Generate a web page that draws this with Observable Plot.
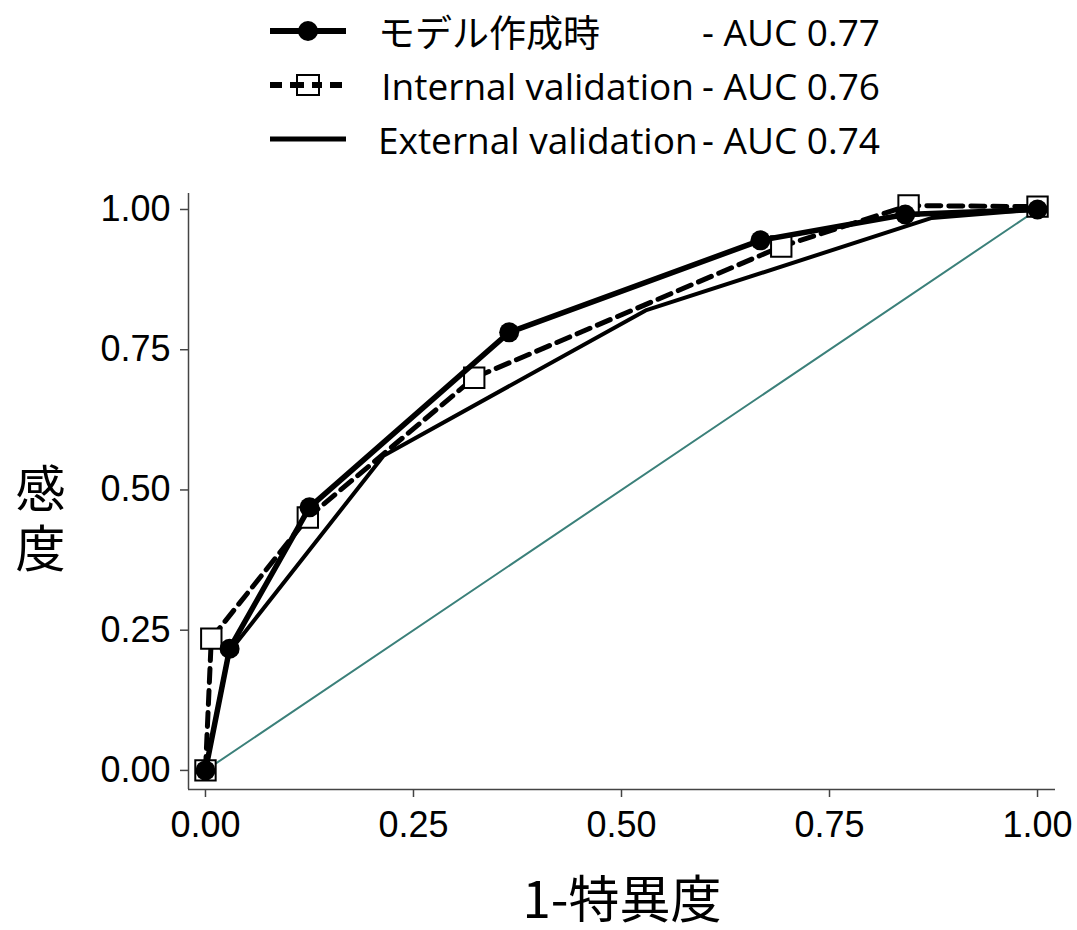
<!DOCTYPE html>
<html>
<head>
<meta charset="utf-8">
<script src="https://cdn.jsdelivr.net/npm/d3@7"></script>
<script src="https://cdn.jsdelivr.net/npm/@observablehq/plot@0.6"></script>
<style>
  body { margin: 0; background: #fff; width: 1077px; }
  #legend { position: relative; height: 170px; font-family: "Open Sans", "Noto Sans CJK JP", sans-serif; font-size: 37px; color: #000; }
  .row { position: absolute; left: 0; height: 54px; display: flex; align-items: center; }
  .row svg { position: absolute; left: 268px; top: 0; }
  .name { position: absolute; left: 378px; width: 316px; white-space: nowrap; }
  .name.r { text-align: right; }
  .auc { position: absolute; left: 702px; white-space: nowrap; }
</style>
</head>
<body>
<div id="legend"></div>
<div id="chart"></div>
<script>
// ---- data ----
const seriesNames = ["モデル作成時", "Internal validation", "External validation"];
const aucLabels = ["- AUC 0.77", "- AUC 0.76", "- AUC 0.74"];

const modelFPR = [0, 0.029, 0.125, 0.365, 0.667, 0.841, 1];
const modelTPR = [0, 0.217, 0.469, 0.781, 0.945, 0.991, 1];

const internalFPR = [0, 0.007, 0.123, 0.323, 0.692, 0.845, 1];
const internalTPR = [0, 0.235, 0.451, 0.700, 0.934, 1.007, 1.005];

const externalFPR = [0, 0.028, 0.214, 0.529, 0.873, 1];
const externalTPR = [0, 0.210, 0.561, 0.820, 0.985, 1];

const refFPR = [0, 1];
const refTPR = [0, 1];

const xTicks = [0, 0.25, 0.5, 0.75, 1];
const yTicks = [0, 0.25, 0.5, 0.75, 1];
const xLabel = "1-特異度";
const yLabel = "感\n度";

const xDomain = [-0.0204, 1.0216];
const yDomain = [-0.034, 1.0285];

// ---- build tables ----
const zip = (xs, ys) => xs.map((x, i) => ({x, y: ys[i]}));
const model = zip(modelFPR, modelTPR);
const internal = zip(internalFPR, internalTPR);
const external = zip(externalFPR, externalTPR);
const ref = zip(refFPR, refTPR);

// ---- legend ----
const legend = document.getElementById("legend");
const samples = [
  `<svg width="80" height="54"><line x1="2" y1="27" x2="78" y2="27" stroke="black" stroke-width="6"/><circle cx="40" cy="27" r="10" fill="black"/></svg>`,
  `<svg width="80" height="54"><line x1="2" y1="27" x2="78" y2="27" stroke="black" stroke-width="6" stroke-dasharray="12,8"/><rect x="29" y="17" width="22" height="20" fill="white" stroke="black" stroke-width="2"/><line x1="29" y1="27" x2="36" y2="27" stroke="black" stroke-width="6"/><line x1="44" y1="27" x2="51" y2="27" stroke="black" stroke-width="6"/></svg>`,
  `<svg width="80" height="54"><line x1="2" y1="27" x2="78" y2="27" stroke="black" stroke-width="5"/></svg>`
];
const rowTops = [4, 58, 112];
seriesNames.forEach((name, i) => {
  const row = document.createElement("div");
  row.className = "row";
  row.style.top = rowTops[i] + "px";
  row.style.width = "1077px";
  row.innerHTML = samples[i] +
    `<span class="name${i === 0 ? "" : " r"}">${name}</span>` +
    `<span class="auc">${aucLabels[i]}</span>`;
  legend.appendChild(row);
});

// ---- chart ----
const chart = Plot.plot({
  width: 1077,
  height: 760,
  marginLeft: 188,
  marginRight: 22,
  marginTop: 23,
  marginBottom: 141,
  style: {fontFamily: "'Liberation Sans', Arial, sans-serif", color: "#000", background: "#fff"},
  x: {domain: xDomain},
  y: {domain: yDomain},
  marks: [
    Plot.ruleX([xDomain[0]], {stroke: "#444", strokeWidth: 1.5}),
    Plot.ruleY([yDomain[0]], {stroke: "#444", strokeWidth: 1.5}),
    Plot.axisX({ticks: xTicks, tickFormat: d3.format(".2f"), tickSize: 8, tickPadding: 14, fontSize: 36, label: null, stroke: "#444", strokeWidth: 1.5}),
    Plot.axisY({ticks: yTicks, tickFormat: d3.format(".2f"), tickSize: 8, tickPadding: 10, fontSize: 36, label: null, stroke: "#444", strokeWidth: 1.5}),
    Plot.line(ref, {x: "x", y: "y", stroke: "#3b807a", strokeWidth: 2}),
    Plot.line(external, {x: "x", y: "y", stroke: "black", strokeWidth: 4}),
    Plot.line(internal, {x: "x", y: "y", stroke: "black", strokeWidth: 5, strokeDasharray: "14,8"}),
    Plot.dot(internal, {x: "x", y: "y", symbol: "square", r: 11.5, fill: "white", stroke: "black", strokeWidth: 2}),
    Plot.line(model, {x: "x", y: "y", stroke: "black", strokeWidth: 5.5}),
    Plot.dot(model, {x: "x", y: "y", r: 10, fill: "black"}),
    Plot.text([xLabel], {text: d => d, frameAnchor: "bottom", dy: 112, fontSize: 51, lineAnchor: "middle", fontFamily: "'Noto Sans CJK JP', sans-serif"}),
    Plot.text([yLabel], {text: d => d, frameAnchor: "left", dx: -148, dy: 26, fontSize: 50, textAnchor: "middle", lineAnchor: "middle", lineHeight: 1.2, fontFamily: "'Noto Sans CJK JP', sans-serif"})
  ]
});
document.getElementById("chart").appendChild(chart);
</script>
</body>
</html>
